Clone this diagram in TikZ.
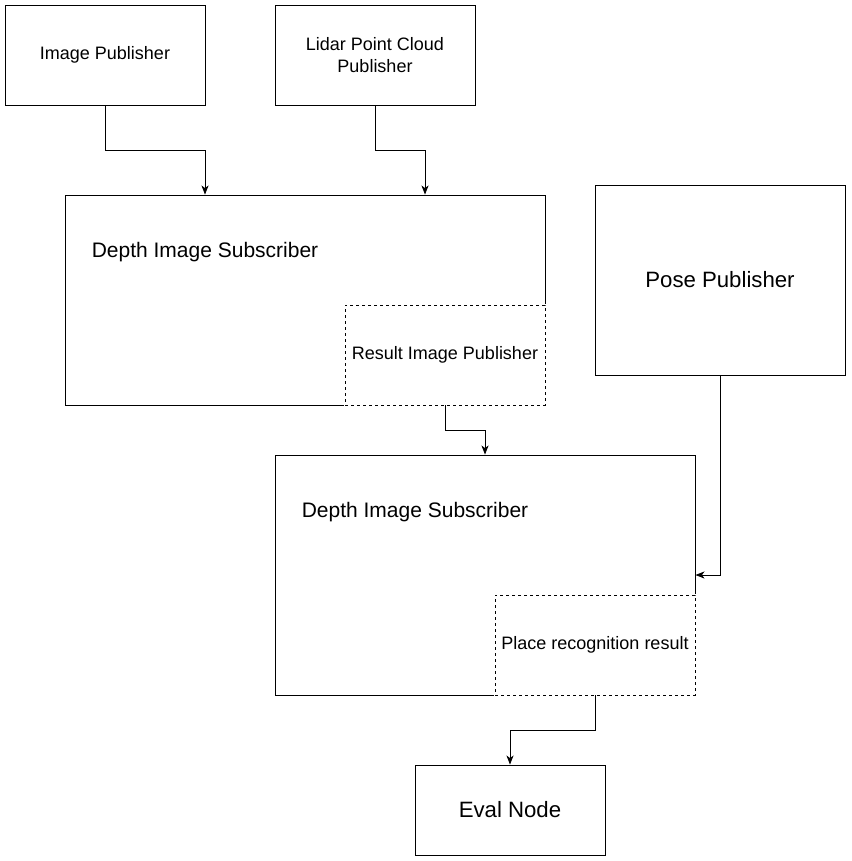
\documentclass[tikz,border=0pt]{standalone}
\usepackage{fontspec}
\setmainfont{Liberation Sans}
\usetikzlibrary{arrows.meta,positioning}
\tikzset{
  box/.style={draw=black, line width=0.9pt, fill=white, inner sep=0pt, align=center},
  subbox/.style={box, preaction={draw=white, solid, line width=1.6pt}, dash pattern=on 3pt off 3pt},
  small/.style={font=\fontsize{18pt}{22.5pt}\selectfont},
  big/.style={font=\fontsize{21pt}{26pt}\selectfont},
  bigger/.style={font=\fontsize{22.2pt}{27pt}\selectfont},
  lbl/.style={inner sep=0pt},
  arr/.style={draw=black, line width=0.9pt, -{Stealth[length=9pt,width=7pt,inset=2.5pt]}},
}
\begin{document}
\begin{tikzpicture}[x=1pt,y=-1pt]
\useasboundingbox[fill=white] (0,0) rectangle (851,861);
% top publishers
\node[box, small, minimum width=200pt, minimum height=100pt] (img) at (105,55) {Image Publisher};
\node[box, small, minimum width=200pt, minimum height=100pt] (lidar) at (375,55) {Lidar Point Cloud\\Publisher};
% first depth subscriber
\node[box, minimum width=480pt, minimum height=210pt] (d1) at (305,300) {};
\node[lbl, big] (d1t) at (205,252) {Depth Image Subscriber};
\node[subbox, small, minimum width=200pt, minimum height=100pt] (res) at (445,355) {Result Image Publisher};
% pose publisher
\node[box, bigger, minimum width=250pt, minimum height=190pt] (pose) at (720,280) {Pose Publisher};
% second depth subscriber
\node[box, minimum width=420pt, minimum height=240pt] (d2) at (485,575) {};
\node[lbl, big] (d2t) at (415,512) {Depth Image Subscriber};
\node[subbox, small, minimum width=200pt, minimum height=100pt] (place) at (595,645) {Place recognition result};
% eval node
\node[box, bigger, minimum width=190pt, minimum height=90pt] (eval) at (510,810) {Eval Node};
% connectors
\draw[arr] (img.south) -- ++(0,45) -| ([xshift=-100pt]d1.north);
\draw[arr] (lidar.south) -- ++(0,45) -| ([xshift=120pt]d1.north);
\draw[arr] (res.south) -- ++(0,25) -| (d2.north);
\draw[arr] (pose.south) |- (d2.east);
\draw[arr] (place.south) -- ++(0,35) -| (eval.north);
\end{tikzpicture}
\end{document}
